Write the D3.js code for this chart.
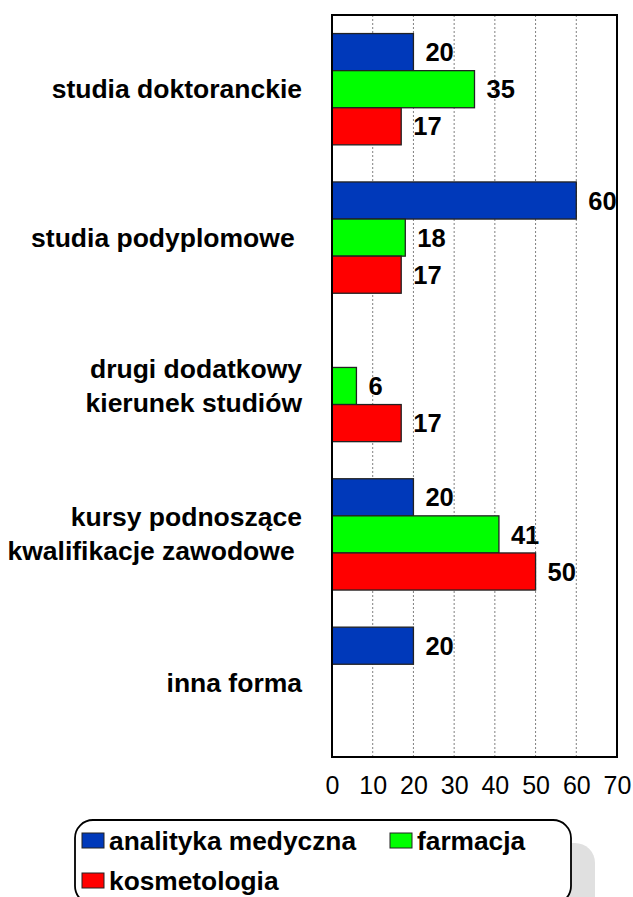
<!DOCTYPE html>
<html><head><meta charset="utf-8">
<script src="https://cdn.jsdelivr.net/npm/d3@7"></script>
<style>
body{margin:0;background:#fff}
text{font-family:"Liberation Sans",Arial,Helvetica,sans-serif;white-space:pre}
</style>
</head><body><svg id="c" width="633" height="897"></svg>
<script>
const categories = [["studia doktoranckie"],["studia podyplomowe "],["drugi dodatkowy","kierunek studiów"],["kursy podnoszące","kwalifikacje zawodowe "],["inna forma"]];
const seriesNames = ["analityka medyczna","farmacja","kosmetologia"];
const analityka = [20,60,null,20,20];
const farmacja = [35,18,6,41,null];
const kosmetologia = [17,17,17,50,null];
const xTicks = [0,10,20,30,40,50,60,70];
const colors = ["#0039BA","#00FF00","#FF0000"];

const series = [analityka, farmacja, kosmetologia];
const svg = d3.select("#c");
const L = 332, R = 617, T = 15, B = 757;

const catKeys = categories.map(c => c.join(" "));
const y = d3.scaleBand().domain(catKeys).range([T, B]).padding(0);
const ySub = d3.scaleBand().domain(seriesNames).range([0, y.bandwidth()]).paddingInner(0).paddingOuter(0.5);
const x = d3.scaleLinear().domain([0, 70]).range([L, R]);

// gridlines
svg.append("g").selectAll("line").data(xTicks.filter(t => t > 0 && t < 70)).join("line")
  .attr("x1", d => x(d)).attr("x2", d => x(d)).attr("y1", T).attr("y2", B)
  .attr("stroke", "#808080").attr("stroke-width", 1).attr("stroke-dasharray", "2,2");

// bars
const rows = [];
catKeys.forEach((k, i) => seriesNames.forEach((s, j) => {
  if (series[j][i] != null) rows.push({cat: k, s, j, v: series[j][i]});
}));
svg.append("g").selectAll("rect").data(rows).join("rect")
  .attr("x", x(0)).attr("y", d => y(d.cat) + ySub(d.s))
  .attr("width", d => x(d.v) - x(0)).attr("height", ySub.bandwidth())
  .attr("fill", d => colors[d.j]).attr("stroke", "#222").attr("stroke-width", 1.3);

// value labels
svg.append("g").selectAll("text").data(rows).join("text")
  .attr("x", d => x(d.v) + 12).attr("y", d => y(d.cat) + ySub(d.s) + ySub.bandwidth() / 2)
  .attr("dy", "0.36em").attr("font-size", 25.5).attr("font-weight", "bold").attr("fill", "#000")
  .text(d => d.v);

// plot frame
svg.append("rect").attr("x", L).attr("y", T).attr("width", R - L).attr("height", B - T)
  .attr("fill", "none").attr("stroke", "#000").attr("stroke-width", 2);

// x axis
const xAxis = d3.axisBottom(x).tickValues(xTicks).tickSize(0).tickPadding(0);
const gx = svg.append("g").attr("transform", `translate(0,${B})`).call(xAxis);
gx.select(".domain").remove();
gx.selectAll("text").attr("font-size", 25).attr("fill", "#000")
  .attr("font-family", '"Liberation Sans",Arial,sans-serif').attr("dy", null).attr("y", 37);

// category labels
const cl = svg.append("g").selectAll("text").data(categories).join("text")
  .attr("text-anchor", "end").attr("font-size", 26.5).attr("font-weight", "bold").attr("fill", "#000")
  .attr("transform", (c, i) => `translate(302,${y(catKeys[i]) + y.bandwidth() / 2})`);
cl.each(function(c) {
  const t = d3.select(this);
  const lh = 34;
  c.forEach((line, k) => {
    t.append("tspan").attr("x", 0).attr("y", (k - (c.length - 1) / 2) * lh).attr("dy", "0.34em").text(line);
  });
});

// legend
const lg = svg.append("g");
lg.append("rect").attr("x", 98).attr("y", 843).attr("width", 497).attr("height", 90).attr("rx", 20)
  .attr("fill", "#e0e0e0");
lg.append("rect").attr("x", 75).attr("y", 820).attr("width", 496).attr("height", 84).attr("rx", 18)
  .attr("fill", "#fff").attr("stroke", "#000").attr("stroke-width", 1.8);
const legPos = [{x: 82, y: 850}, {x: 390, y: 850}, {x: 82, y: 890}];
const li = lg.selectAll("g.li").data(seriesNames).join("g").attr("class", "li")
  .attr("transform", (d, i) => `translate(${legPos[i].x},${legPos[i].y})`);
li.append("rect").attr("x", 0).attr("y", -17).attr("width", 22).attr("height", 15)
  .attr("fill", (d, i) => colors[i]).attr("stroke", "#222").attr("stroke-width", 1);
li.append("text").attr("x", 27).attr("y", 0).attr("font-size", 26.3).attr("font-weight", "bold")
  .attr("fill", "#000").text(d => d);
</script>
</body></html>
